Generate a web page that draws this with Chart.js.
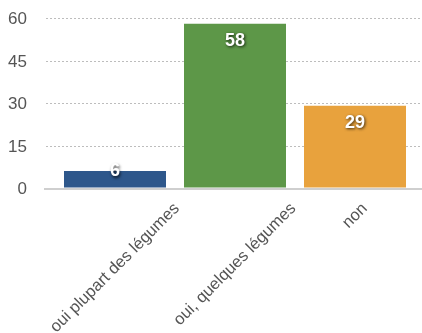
<!DOCTYPE html>
<html>
<head>
<meta charset="utf-8">
<script src="https://cdn.jsdelivr.net/npm/chart.js@4"></script>
<style>
  html, body { margin: 0; padding: 0; background: #fff; }
  canvas { display: block; }
</style>
</head>
<body>
<canvas id="c" width="422" height="333"></canvas>
<script>
// Categories, answer counts and bar colours
const categories = ['oui plupart des légumes', 'oui, quelques légumes', 'non'];
const counts = [6, 58, 29];
const barColors = ['#2e578b', '#5d9748', '#e8a23d'];
const yTicks = [0, 15, 30, 45, 60];

const FONT = '"Liberation Sans", Arial, Helvetica, sans-serif';

// Dotted horizontal guides and the solid base line
const gridPlugin = {
  id: 'guides',
  beforeDatasetsDraw(chart) {
    const { ctx, scales: { y }, width } = chart;
    ctx.save();
    ctx.strokeStyle = '#bdbdbd';
    ctx.lineWidth = 1;
    ctx.setLineDash([2, 2]);
    yTicks.forEach(v => {
      if (v === 0) return;
      const py = Math.round(y.getPixelForValue(v)) + 0.5;
      ctx.beginPath();
      ctx.moveTo(46, py);
      ctx.lineTo(width, py);
      ctx.stroke();
    });
    ctx.restore();
  },
  afterDatasetsDraw(chart) {
    const { ctx, scales: { y }, width } = chart;
    const py = y.getPixelForValue(0) + 1;
    ctx.save();
    ctx.strokeStyle = '#cfcfcf';
    ctx.lineWidth = 2;
    ctx.beginPath();
    ctx.moveTo(44, py);
    ctx.lineTo(width, py);
    ctx.stroke();
    ctx.restore();
  }
};

// White value labels with a soft dark shadow near the top of each bar
const valuePlugin = {
  id: 'values',
  afterDatasetsDraw(chart) {
    const { ctx } = chart;
    const meta = chart.getDatasetMeta(0);
    ctx.save();
    ctx.font = 'bold 18px ' + FONT;
    ctx.fillStyle = '#ffffff';
    ctx.textAlign = 'center';
    ctx.textBaseline = 'middle';
    ctx.shadowColor = 'rgba(0,0,0,0.75)';
    ctx.shadowBlur = 3;
    ctx.shadowOffsetX = 1;
    ctx.shadowOffsetY = 1.5;
    meta.data.forEach((bar, i) => {
      const ty = Math.min(bar.y + 17, bar.base - 16);
      ctx.fillText(String(counts[i]), bar.x, ty);
    });
    ctx.restore();
  }
};

// Category names, rotated 45° and centred under each bar
const categoryLabelPlugin = {
  id: 'categoryLabels',
  afterDraw(chart) {
    const { ctx, scales: { x }, chartArea } = chart;
    const c = Math.SQRT1_2;
    ctx.save();
    ctx.font = '16.5px ' + FONT;
    ctx.fillStyle = '#555555';
    ctx.textAlign = 'center';
    ctx.textBaseline = 'middle';
    categories.forEach((label, i) => {
      const px = x.getPixelForValue(i);
      const w = ctx.measureText(label).width;
      const cy = chartArea.bottom + 18 + (w / 2) * c;
      ctx.save();
      ctx.translate(px, cy);
      ctx.rotate(-Math.PI / 4);
      ctx.fillText(label, 0, 0);
      ctx.restore();
    });
    ctx.restore();
  }
};

new Chart(document.getElementById('c'), {
  type: 'bar',
  data: {
    labels: categories,
    datasets: [{
      data: counts,
      backgroundColor: barColors,
      borderWidth: 0,
      barPercentage: 0.85,
      categoryPercentage: 1
    }]
  },
  options: {
    responsive: false,
    devicePixelRatio: 1,
    animation: false,
    layout: { padding: { left: 0, right: 7, top: 18, bottom: 145 } },
    plugins: {
      legend: { display: false },
      tooltip: { enabled: false }
    },
    scales: {
      x: { display: false, offset: true },
      y: {
        min: 0,
        max: 60,
        afterBuildTicks(scale) {
          scale.ticks = yTicks.map(v => ({ value: v }));
        },
        afterFit(scale) { scale.width = 55; },
        // invisible tick marks keep the labels clear of the plot area
        grid: {
          display: true,
          drawOnChartArea: false,
          drawTicks: true,
          tickLength: 28,
          color: 'rgba(0,0,0,0)'
        },
        border: { display: false },
        ticks: {
          padding: 0,
          labelOffset: 1.5,
          color: '#555555',
          font: { family: FONT, size: 17 }
        }
      }
    }
  },
  plugins: [gridPlugin, valuePlugin, categoryLabelPlugin]
});
</script>
</body>
</html>
